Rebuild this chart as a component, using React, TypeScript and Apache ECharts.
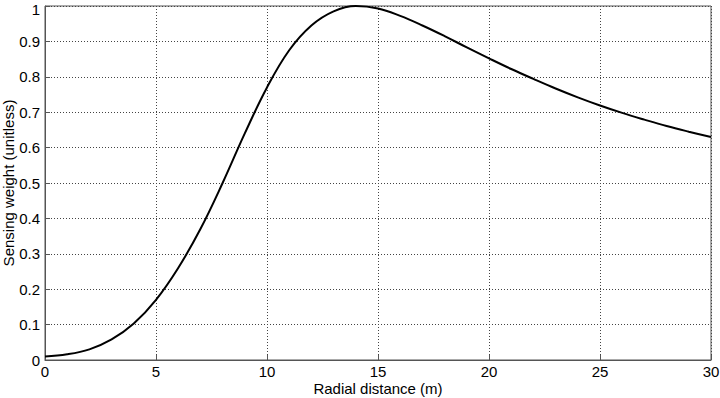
import React, { useEffect, useRef } from "react";
import * as echarts from "echarts";

const distances = [0, 1, 2, 3, 4, 5, 6, 7, 8, 9, 10, 11, 12, 13, 14, 15, 16, 17, 18, 19, 20, 21, 22, 23, 24, 25, 26, 27, 28, 29, 30];
const weights = [0.01, 0.016, 0.03, 0.058, 0.103, 0.17, 0.26, 0.37, 0.5, 0.64, 0.77, 0.875, 0.945, 0.985, 1.0, 0.993, 0.972, 0.945, 0.915, 0.883, 0.852, 0.822, 0.794, 0.767, 0.742, 0.719, 0.698, 0.679, 0.661, 0.645, 0.63];

const xTitle = "Radial distance (m)";
const yTitle = "Sensing weight (unitless)";

export default function App() {
  const ref = useRef<HTMLDivElement>(null);
  useEffect(() => {
    if (!ref.current) return;
    const chart = echarts.init(ref.current, null, { renderer: "svg" });
    const font = "Liberation Sans, Arial, sans-serif";
    const gridLine = { show: true, lineStyle: { color: "#444", type: [1, 2] as any, width: 1 } };
    chart.setOption({
      animation: false,
      backgroundColor: "#fff",
      grid: {
        left: 45, right: 9, top: 6, bottom: 38, show: true, borderColor: "#555", borderWidth: 1,
        containLabel: false, outerBoundsMode: "none",
      },
      xAxis: {
        type: "value",
        min: 0,
        max: 30,
        interval: 5,
        name: xTitle,
        nameLocation: "middle",
        nameGap: 21,
        nameMoveOverlap: false,
        nameTextStyle: { color: "#000", fontFamily: font, fontSize: 15 },
        axisLine: { lineStyle: { color: "#555" } },
        axisTick: { inside: true, length: 5, lineStyle: { color: "#555" } },
        axisLabel: { color: "#000", fontFamily: font, fontSize: 15, margin: 4 },
        splitLine: gridLine,
      },
      yAxis: {
        type: "value",
        min: 0,
        max: 1,
        interval: 0.1,
        name: yTitle,
        nameLocation: "middle",
        nameGap: 29,
        nameMoveOverlap: false,
        nameTextStyle: { color: "#000", fontFamily: font, fontSize: 15 },
        axisLine: { show: true, lineStyle: { color: "#555" } },
        axisTick: { show: true, inside: true, length: 5, lineStyle: { color: "#555" } },
        axisLabel: {
          color: "#000",
          fontFamily: font,
          fontSize: 15,
          margin: 5,
          formatter: (v: number) => (v === 1 ? "{t|1}" : String(Math.round(v * 10) / 10)),
          rich: { t: { fontFamily: font, fontSize: 15, color: "#000", padding: [6, 0, 0, 0] } },
        },
        splitLine: gridLine,
      },
      series: [
        {
          type: "line",
          data: distances.map((d, i) => [d, weights[i]]),
          smooth: 0.4,
          symbol: "none",
          lineStyle: { color: "#000", width: 2 },
        },
      ],
    });
    return () => chart.dispose();
  }, []);
  return <div ref={ref} style={{ position: "fixed", left: 0, top: 0, width: 720, height: 398 }} />;
}
